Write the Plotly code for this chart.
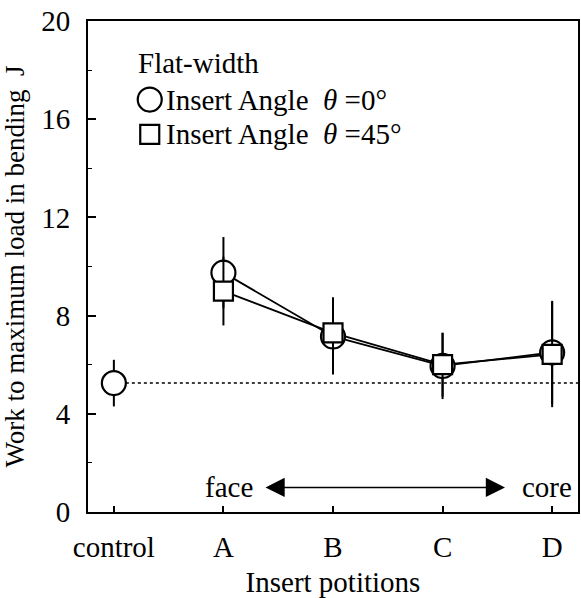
import plotly.graph_objects as go

positions = ["control", "A", "B", "C", "D"]
insert_pos = ["A", "B", "C", "D"]

control_value = [5.25]
control_err_plus = [0.95]
control_err_minus = [0.95]

angle0_values = [9.75, 7.15, 5.95, 6.5]
angle0_err = [1.45, 1.55, 1.35, 2.1]

angle45_values = [9.0, 7.3, 6.0, 6.42]
angle45_err = [1.4, 1.45, 1.3, 2.15]

legend_title = "Flat-width"
legend_labels = ["Insert Angle  <i>θ</i> =0°", "Insert Angle  <i>θ</i> =45°"]

FONT = "Liberation Serif, DejaVu Serif, serif"
FS = 29
X_RANGE = [-0.236, 4.236]

x_idx = {p: i for i, p in enumerate(positions)}
xc = [x_idx["control"]]
xi = [x_idx[p] for p in insert_pos]

circle_marker = dict(symbol="circle", size=24, color="white", line=dict(color="black", width=2.2))
square_marker = dict(symbol="square", size=19, color="white", line=dict(color="black", width=2.2))

fig = go.Figure()

fig.add_trace(go.Scatter(x=xi, y=angle0_values, mode="lines",
                         line=dict(color="black", width=1.8), showlegend=False, hoverinfo="skip"))
fig.add_trace(go.Scatter(x=xi, y=angle45_values, mode="lines",
                         line=dict(color="black", width=1.8), showlegend=False, hoverinfo="skip"))

fig.add_trace(go.Scatter(x=xc, y=control_value, mode="markers", name="control",
                         marker=circle_marker,
                         error_y=dict(type="data", array=control_err_plus, arrayminus=control_err_minus,
                                      color="black", thickness=2, width=0),
                         showlegend=False))

fig.add_trace(go.Scatter(x=xi, y=angle0_values, mode="markers",
                         name="Insert Angle θ =0°", marker=circle_marker,
                         error_y=dict(type="data", array=angle0_err,
                                      color="black", thickness=2, width=0),
                         showlegend=False))

fig.add_trace(go.Scatter(x=xi, y=angle45_values, mode="markers",
                         name="Insert Angle θ =45°", marker=square_marker,
                         error_y=dict(type="data", array=angle45_err,
                                      color="black", thickness=2, width=0),
                         showlegend=False))

# legend key symbols (on an overlay axis spanning the plot area 0..1)
legend_key_x = 0.126
legend_row_y = [0.840, 0.769]
fig.add_trace(go.Scatter(x=[legend_key_x], y=[legend_row_y[0]], mode="markers",
                         marker=circle_marker, xaxis="x2", yaxis="y2",
                         showlegend=False, hoverinfo="skip"))
fig.add_trace(go.Scatter(x=[legend_key_x], y=[legend_row_y[1]], mode="markers",
                         marker=square_marker, xaxis="x2", yaxis="y2",
                         showlegend=False, hoverinfo="skip"))

# dotted control reference line, from the control point to the right edge
fig.add_shape(type="line", xref="x", x0=xc[0], x1=X_RANGE[1], yref="y",
              y0=control_value[0], y1=control_value[0], layer="below",
              line=dict(color="black", width=1.5, dash="dot"))

fig.add_annotation(x=3.57, y=1.0, ax=1.37, ay=1.0, xref="x", yref="y", axref="x", ayref="y",
                   text="", showarrow=True, arrowhead=2, arrowside="end+start",
                   arrowsize=2.4, arrowwidth=1.6, arrowcolor="black")
fig.add_annotation(x=1.05, y=1.0, xref="x", yref="y", text="face", showarrow=False,
                   font=dict(family=FONT, size=FS, color="black"))
fig.add_annotation(x=3.95, y=1.0, xref="x", yref="y", text="core", showarrow=False,
                   font=dict(family=FONT, size=FS, color="black"))

fig.add_annotation(x=0.098, y=0.914, xref="paper", yref="paper", text=legend_title,
                   showarrow=False, xanchor="left", yanchor="middle",
                   font=dict(family=FONT, size=FS, color="black"))
for txt, yy in zip(legend_labels, legend_row_y):
    fig.add_annotation(x=0.156, y=yy, xref="paper", yref="paper", text=txt, showarrow=False,
                       xanchor="left", yanchor="middle",
                       font=dict(family=FONT, size=FS, color="black"))

fig.update_layout(
    width=581, height=598,
    margin=dict(l=88, r=1, t=21, b=86),
    paper_bgcolor="white", plot_bgcolor="white",
    font=dict(family=FONT, size=FS, color="black"),
    showlegend=False,
    xaxis=dict(range=X_RANGE, tickvals=list(range(len(positions))), ticktext=positions,
               showline=True, linecolor="black", linewidth=2, mirror=True,
               ticks="inside", ticklen=6, tickwidth=1.5, tickcolor="black",
               showgrid=False, zeroline=False,
               title=dict(text="Insert potitions", font=dict(family=FONT, size=FS), standoff=10),
               ticklabelstandoff=8),
    yaxis=dict(range=[0, 20], tickvals=[0, 4, 8, 12, 16, 20],
               showline=True, linecolor="black", linewidth=2, mirror=True,
               ticks="inside", ticklen=8, tickwidth=1.5, tickcolor="black",
               minor=dict(tickvals=[2, 6, 10, 14, 18], ticks="inside", ticklen=4,
                          tickwidth=1, tickcolor="black", showgrid=False),
               showgrid=False, zeroline=False,
               title=dict(text="Work to maximum load in bending  J",
                          font=dict(family=FONT, size=27), standoff=10),
               ticklabelstandoff=10),
    xaxis2=dict(overlaying="x", range=[0, 1], visible=False, fixedrange=True),
    yaxis2=dict(overlaying="y", range=[0, 1], visible=False, fixedrange=True),
)

fig.write_html("out.html")
